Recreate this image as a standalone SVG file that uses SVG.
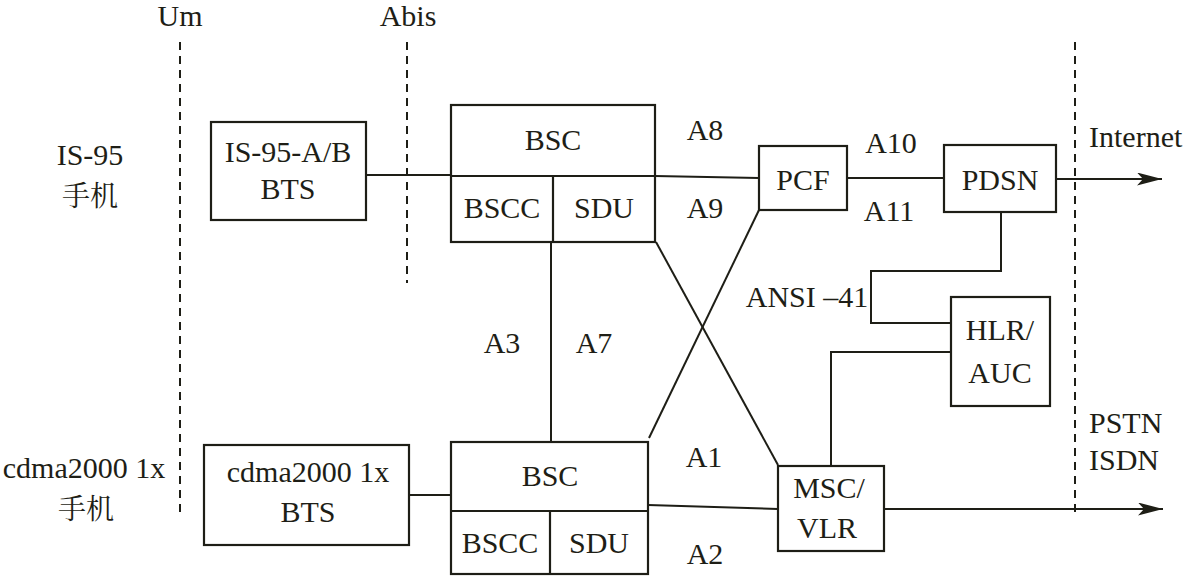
<svg xmlns="http://www.w3.org/2000/svg" width="1185" height="576" viewBox="0 0 1185 576">
<defs>
<style>
.b{fill:none;stroke:#1e1e16;stroke-width:2.2}
.l{fill:none;stroke:#1e1e16;stroke-width:2}
.d{fill:none;stroke:#1e1e16;stroke-width:2;stroke-dasharray:8 6}
text{font-size:30px;fill:#1e1e16;text-anchor:middle}
.cn{font-size:28px}
.s{text-anchor:start}
</style>
<marker id="ah" markerUnits="userSpaceOnUse" markerWidth="26" markerHeight="14" refX="25" refY="6.5" orient="auto">
<path d="M0,0 L25,6.5 L0,13 L6,6.5 Z" fill="#1e1e16"/>
</marker>
</defs>
<rect width="1185" height="576" fill="#ffffff"/>
<g font-family="Liberation Serif, Times New Roman, Tinos, Noto Serif, DejaVu Serif, serif">

<g id="boundaries">
<line class="d" x1="180" y1="42" x2="180" y2="517"/>
<line class="d" x1="407" y1="42" x2="407" y2="283"/>
<line class="d" x1="1075" y1="42" x2="1075" y2="515"/>
<text x="180" y="26">Um</text>
<text x="408" y="26">Abis</text>
<text class="s" x="1089" y="147">Internet</text>
<text class="s" x="1089" y="433">PSTN</text>
<text class="s" x="1089" y="470">ISDN</text>
</g>

<g id="is95-phone">
<text x="90" y="165">IS-95</text>
<text class="cn" x="90" y="206" font-family="Noto Serif CJK SC, Noto Sans CJK SC, sans-serif">手机</text>
</g>
<g id="cdma-phone">
<text x="84" y="478">cdma2000 1x</text>
<text class="cn" x="86" y="519" font-family="Noto Serif CJK SC, Noto Sans CJK SC, sans-serif">手机</text>
</g>

<g id="is95-bts">
<rect class="b" x="211" y="122" width="155" height="98"/>
<text x="288" y="162">IS-95-A/B</text>
<text x="288" y="199">BTS</text>
</g>

<g id="cdma-bts">
<rect class="b" x="204" y="445" width="205" height="100"/>
<text x="308" y="482">cdma2000 1x</text>
<text x="308" y="522">BTS</text>
</g>

<g id="bsc-top">
<rect class="b" x="451" y="105" width="204" height="137"/>
<line class="b" x1="451" y1="176" x2="655" y2="176"/>
<line class="b" x1="553" y1="176" x2="553" y2="242"/>
<text x="553" y="150">BSC</text>
<text x="502" y="218">BSCC</text>
<text x="604" y="218">SDU</text>
</g>

<g id="bsc-bottom">
<rect class="b" x="451" y="442" width="197" height="132"/>
<line class="b" x1="451" y1="511" x2="648" y2="511"/>
<line class="b" x1="550" y1="511" x2="550" y2="574"/>
<text x="550" y="486">BSC</text>
<text x="500" y="553">BSCC</text>
<text x="599" y="553">SDU</text>
</g>

<g id="pcf">
<rect class="b" x="759" y="146" width="88" height="64"/>
<text x="803" y="190">PCF</text>
</g>

<g id="pdsn">
<rect class="b" x="944" y="145" width="112" height="67"/>
<text x="1000" y="190">PDSN</text>
</g>

<g id="hlr">
<rect class="b" x="951" y="297" width="99" height="109"/>
<text x="1000" y="340">HLR/</text>
<text x="1000" y="383">AUC</text>
</g>

<g id="msc">
<rect class="b" x="778" y="466" width="106" height="85"/>
<text x="829" y="498">MSC/</text>
<text x="827" y="538">VLR</text>
</g>

<g id="connectors">
<line class="l" x1="366" y1="175" x2="451" y2="175"/>
<line class="l" x1="409" y1="495" x2="451" y2="495"/>
<line class="l" x1="655" y1="176" x2="759" y2="178"/>
<line class="l" x1="847" y1="178" x2="944" y2="178"/>
<line class="l" x1="1056" y1="179" x2="1162" y2="179" marker-end="url(#ah)"/>
<polyline class="l" points="1001,212 1001,271 871,271 871,323 951,323"/>
<polyline class="l" points="951,352 831,352 831,466"/>
<line class="l" x1="551" y1="242" x2="551" y2="442"/>
<line class="l" x1="656" y1="242" x2="778" y2="465"/>
<line class="l" x1="649" y1="438" x2="759" y2="210"/>
<line class="l" x1="648" y1="505" x2="778" y2="509"/>
<line class="l" x1="884" y1="509" x2="1163" y2="509" marker-end="url(#ah)"/>
<text x="705" y="140">A8</text>
<text x="705" y="218">A9</text>
<text x="891" y="153">A10</text>
<text x="889" y="221">A11</text>
<text x="807" y="307">ANSI –41</text>
<text x="502" y="353">A3</text>
<text x="594" y="353">A7</text>
<text x="704" y="467">A1</text>
<text x="705" y="564">A2</text>
</g>
</g>
</svg>
